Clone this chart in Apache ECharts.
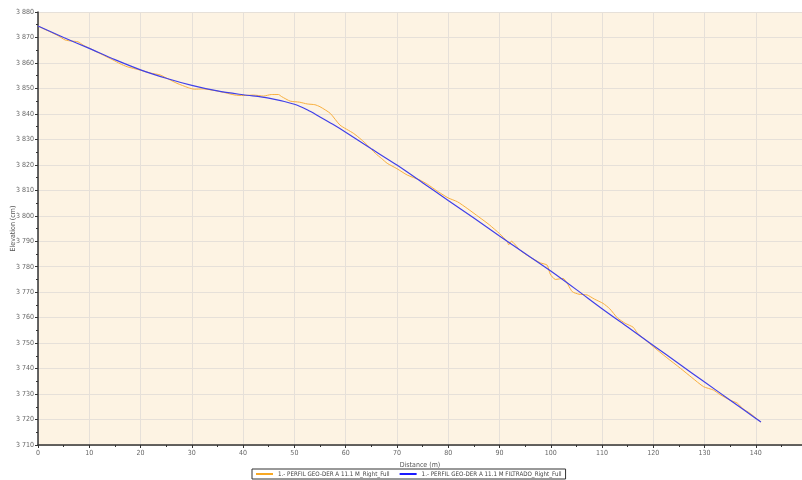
<!DOCTYPE html>
<html>
<head>
<meta charset="utf-8">
<script src="https://cdn.jsdelivr.net/npm/echarts@6/dist/echarts.min.js"></script>
<style>
  html, body { margin: 0; padding: 0; background: #fff; }
  #chart { width: 802px; height: 480px; }
</style>
</head>
<body>
<div id="chart"></div>
<script>
// raw profile (orange)
const rawDist = [0, 1.2, 2.3, 4, 5.3, 6.5, 7.8, 8.8, 10.1, 12.3, 14.6, 16, 17.4, 19.9, 22, 23.8, 25.5, 27.1, 29.3, 30.5,
  32.2, 34.9, 36.5, 38.4, 40, 42, 44, 45.5, 46.9, 47.5, 49.2, 51, 52.5, 54, 55, 57, 58.9, 61.5, 63, 64.2,
  65.8, 67, 68.1, 70, 72, 74.5, 76, 78, 80, 81.8, 83.7, 86, 88, 90, 91.5, 91.8, 92.3, 94, 96, 98,
  99.3, 99.9, 100.9, 102.4, 104.2, 105.5, 107.1, 108.5, 110.2, 111.5, 113, 114.5, 116.1, 116.9, 118.5, 120, 122.5, 125.3, 127.5, 129.8,
  131.7, 133, 135, 136.4, 137.5, 138.9, 140.9];
const rawElev = [3874.5, 3873.3, 3872.3, 3870.6, 3869.0, 3868.6, 3868.3, 3867.0, 3865.7, 3863.5, 3861.2, 3859.7, 3858.5, 3857.2, 3856.0, 3855.3, 3853.6, 3852.0, 3850.3, 3849.7,
  3849.8, 3849.0, 3848.3, 3847.4, 3847.2, 3847.4, 3847.0, 3847.6, 3847.6, 3846.8, 3845.0, 3844.6, 3843.9, 3843.6, 3842.8, 3840.2, 3835.6, 3832.4, 3830.0, 3827.8,
  3824.5, 3822.5, 3820.6, 3818.5, 3816.0, 3814.0, 3812.3, 3809.5, 3807.0, 3805.5, 3802.9, 3799.5, 3796.5, 3793.0, 3790.0, 3788.6, 3790.0, 3786.5, 3783.7, 3781.5,
  3780.6, 3777.1, 3775.0, 3775.4, 3770.2, 3769.2, 3768.9, 3767.3, 3765.6, 3763.5, 3759.9, 3757.8, 3756.2, 3753.9, 3751.2, 3748.6, 3744.5, 3740.1, 3736.5, 3732.9,
  3731.6, 3729.8, 3727.6, 3726.4, 3724.2, 3722.4, 3719.1];

// filtered profile (blue)
const filtDist = [0, 5, 10, 15, 20, 25, 30, 35, 40, 45, 50, 52.5, 55, 57.5, 60, 65, 70, 75, 80, 85, 90, 95,
  100, 105, 110, 115, 120, 125, 130, 135, 140, 141];
const filtElev = [3874.5, 3870.0, 3865.7, 3861.3, 3857.3, 3854.0, 3851.2, 3849.0, 3847.5, 3846.2, 3843.8, 3841.6, 3838.8, 3835.9, 3832.8, 3826.3, 3819.9, 3813.0, 3806.0, 3799.1, 3792.1, 3785.2,
  3778.3, 3771.0, 3763.5, 3756.3, 3749.1, 3741.9, 3734.7, 3727.6, 3720.4, 3719.0];

const seriesNames = ['1.- PERFIL GEO-DER A 11.1 M_Right_Full', '1.- PERFIL GEO-DER A 11.1 M FILTRADO_Right_Full'];

const pair = (xs, ys) => xs.map((x, i) => [x, ys[i]]);

const chart = echarts.init(document.getElementById('chart'));

const FONT = '"DejaVu Sans Condensed", "DejaVu Sans", sans-serif';
const labelStyle = { fontFamily: FONT, fontSize: 7, color: '#666' };

const option = {
  backgroundColor: '#ffffff',
  animation: false,
  grid: {
    left: 38, right: 0, top: 12, bottom: 35,
    outerBoundsMode: 'none',
    containLabel: false,
    show: true,
    backgroundColor: '#fdf3e3',
    borderWidth: 0
  },
  xAxis: {
    type: 'value',
    min: 0, max: 149, interval: 10,
    name: 'Distance (m)',
    nameLocation: 'middle',
    nameGap: 17,
    nameMoveOverlap: false,
    nameTextStyle: { fontFamily: FONT, fontSize: 7, color: '#555' },
    axisLine: { show: true, onZero: false, lineStyle: { color: '#333', width: 1.5 } },
    axisTick: { show: true, length: 3, lineStyle: { color: '#333' } },
    minorTick: { show: true, splitNumber: 2, length: 2, lineStyle: { color: '#333' } },
    axisLabel: Object.assign({ margin: 5, showMaxLabel: false }, labelStyle),
    splitLine: { show: true, lineStyle: { color: '#e6e0d9', width: 1 } }
  },
  yAxis: {
    type: 'value',
    min: 3710, max: 3880, interval: 10,
    name: 'Elevation (cm)',
    nameLocation: 'middle',
    nameGap: 21,
    nameMoveOverlap: false,
    nameTextStyle: { fontFamily: FONT, fontSize: 7, color: '#555' },
    axisLine: { show: true, lineStyle: { color: '#333', width: 1.5 } },
    axisTick: { show: true, length: 3, lineStyle: { color: '#333' } },
    minorTick: { show: true, splitNumber: 2, length: 2, lineStyle: { color: '#333' } },
    axisLabel: Object.assign({
      margin: 4,
      formatter: v => String(v).replace(/(\d)(\d{3})$/, '$1 $2')
    }, labelStyle),
    splitLine: { show: true, lineStyle: { color: '#e6e0d9', width: 1 } }
  },
  legend: {
    bottom: 1,
    left: 252,
    icon: 'rect',
    itemWidth: 17,
    itemHeight: 2,
    itemGap: 10,
    padding: [2, 4],
    borderColor: '#333',
    borderWidth: 1,
    backgroundColor: '#fff',
    textStyle: { fontFamily: FONT, fontSize: 6.2, color: '#444' },
    data: seriesNames
  },
  series: [
    {
      name: seriesNames[0],
      type: 'line',
      data: pair(rawDist, rawElev),
      showSymbol: false,
      smooth: 0.2,
      color: '#f8a823',
      lineStyle: { width: 1, color: '#f9b040' }
    },
    {
      name: seriesNames[1],
      type: 'line',
      data: pair(filtDist, filtElev),
      showSymbol: false,
      smooth: 0.3,
      color: '#1a1aff',
      lineStyle: { width: 1.2, color: '#4040e8' }
    }
  ]
};

chart.setOption(option);
</script>
</body>
</html>
